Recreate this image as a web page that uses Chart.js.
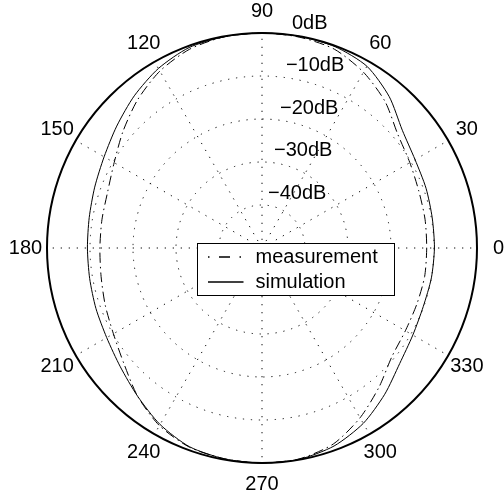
<!DOCTYPE html>
<html>
<head>
<meta charset="utf-8">
<script src="https://cdn.jsdelivr.net/npm/chart.js@4/dist/chart.umd.min.js"></script>
<style>
  html, body { margin: 0; padding: 0; background: #fff; }
  canvas { display: block; }
</style>
</head>
<body>
<canvas id="polar" width="504" height="499"></canvas>
<script>
// Azimuth in degrees, counter-clockwise from 0 (right)
const angles = [0, 10, 20, 30, 40, 50, 60, 70, 80, 90, 100, 110, 120, 130, 140, 150, 160, 170,
                180, 190, 200, 210, 220, 230, 240, 250, 260, 270, 280, 290, 300, 310, 320, 330, 340, 350];

// Normalised pattern, dB
const measurement = [-11.7, -11.5, -11.2, -10.3, -8.8, -5.5, -2.8, -0.8, -0.2, 0, -0.1, -0.8, -2.5, -5.0, -7.8, -10.3, -11.8, -12.2,
                     -12.3, -12.0, -11.2, -10.1, -8.1, -5.0, -2.3, -0.7, -0.2, 0, -0.2, -1.5, -4.4, -7.7, -10.6, -11.5, -11.7, -11.6];
const simulation  = [-9.9, -9.8, -9.4, -8.9, -7.4, -4.0, -1.2, -0.2, 0, 0, -0.1, -0.4, -1.8, -3.8, -5.9, -7.6, -8.6, -9.2,
                     -9.4, -9.3, -8.9, -8.3, -7.0, -5.0, -2.6, -0.8, -0.2, 0, -0.1, -1.0, -2.9, -5.6, -8.2, -9.5, -10.1, -10.0];

const seriesNames = ['measurement', 'simulation'];
const angleTicks = [0, 30, 60, 90, 120, 150, 180, 210, 240, 270, 300, 330];
const dbTicks = [0, -10, -20, -30, -40];
const dbMin = -50;
const dbMax = 0;

// Radar indices run clockwise from the start angle, so walk the azimuths backwards
const order = angles.map((_, i) => (angles.length - i) % angles.length);
const chartLabels = order.map(k => angles[k]);

const FONT = '20px "Liberation Sans", Arial, Helvetica, sans-serif';
const DOT = [1.3, 6.7];
const DASHDOT = [10, 4, 1.5, 4];

const fmtDb = v => (v === 0 ? '0' : '\u2212' + Math.abs(v)) + 'dB';

const polarDecor = {
  id: 'polarDecor',
  afterDatasetsDraw(chart) {
    const s = chart.scales.r;
    const ctx = chart.ctx;
    ctx.save();
    ctx.font = FONT;
    ctx.fillStyle = '#000';

    // azimuth labels just outside the rim
    ctx.textAlign = 'center';
    ctx.textBaseline = 'middle';
    chartLabels.forEach((a, i) => {
      if (angleTicks.includes(a)) {
        const p = s.getPointPosition(i, s.drawingArea * 1.1);
        ctx.fillText(String(a), p.x, p.y);
      }
    });

    // level labels along the 82 degree ray
    ctx.textAlign = 'left';
    ctx.textBaseline = 'alphabetic';
    const t = 82 * Math.PI / 180;
    dbTicks.forEach(v => {
      const r = s.getDistanceFromCenterForValue(v);
      ctx.fillText(fmtDb(v), s.xCenter + r * Math.cos(t), s.yCenter - r * Math.sin(t) - 6.5);
    });

    // legend box
    const bx = s.xCenter - 64.5, by = s.yCenter - 4.5, bw = 197, bh = 52;
    ctx.fillStyle = '#fff';
    ctx.fillRect(bx, by, bw, bh);
    ctx.strokeStyle = '#000';
    ctx.lineWidth = 1;
    ctx.setLineDash([]);
    ctx.strokeRect(bx, by, bw, bh);

    const rows = [by + 13.5, by + 38.5];
    chart.data.datasets.forEach((ds, i) => {
      const y = rows[i];
      ctx.beginPath();
      ctx.lineWidth = 1.3;
      ctx.strokeStyle = '#000';
      ctx.setLineDash(i === 0 ? [1.5, 9.5, 11, 9.5, 1.5, 40] : []);
      ctx.moveTo(bx + 10.5, y);
      ctx.lineTo(bx + 46, y);
      ctx.stroke();
      ctx.setLineDash([]);
      ctx.fillStyle = '#000';
      ctx.textAlign = 'left';
      ctx.textBaseline = 'middle';
      ctx.fillText(ds.label, bx + 58, y);
    });
    ctx.restore();
  }
};

new Chart(document.getElementById('polar'), {
  type: 'radar',
  data: {
    labels: chartLabels,
    datasets: [
      {
        label: seriesNames[0],
        data: order.map(k => measurement[k]),
        borderColor: '#000',
        borderWidth: 1,
        borderDash: DASHDOT,
        fill: false,
        pointRadius: 0,
        tension: 0.25
      },
      {
        label: seriesNames[1],
        data: order.map(k => simulation[k]),
        borderColor: '#000',
        borderWidth: 1,
        fill: false,
        pointRadius: 0,
        tension: 0.25
      }
    ]
  },
  options: {
    responsive: false,
    animation: false,
    events: [],
    layout: { padding: { left: 47, right: 27, top: 33, bottom: 36 } },
    plugins: { legend: { display: false }, tooltip: { enabled: false } },
    scales: {
      r: {
        min: dbMin,
        max: dbMax,
        startAngle: 90,
        ticks: { display: false, stepSize: 10 },
        pointLabels: { display: false },
        grid: {
          circular: true,
          color: c => (c.tick && c.tick.value === dbMax) ? '#000' : '#111',
          lineWidth: c => (c.tick && c.tick.value === dbMax) ? 2 : 1
        },
        border: {
          dash: c => (c.tick && c.tick.value === dbMax) ? [] : DOT
        },
        angleLines: {
          display: true,
          color: c => (angleTicks.includes(chartLabels[c.index]) ? '#111' : 'rgba(0,0,0,0)'),
          lineWidth: 1,
          borderDash: DOT
        }
      }
    }
  },
  plugins: [polarDecor]
});
</script>
</body>
</html>
